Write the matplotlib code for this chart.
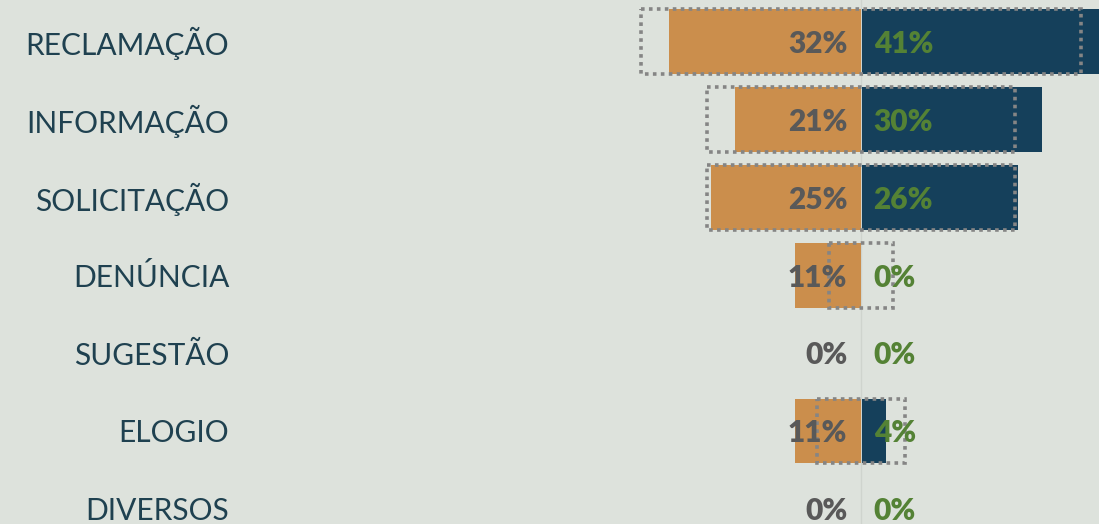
import matplotlib
matplotlib.use("Agg")
import matplotlib.pyplot as plt
from matplotlib.patches import Rectangle

categorias = ["RECLAMAÇÃO", "INFORMAÇÃO", "SOLICITAÇÃO", "DENÚNCIA",
              "SUGESTÃO", "ELOGIO", "DIVERSOS"]
periodo_a = [32, 21, 25, 11, 0, 11, 0]   # barras laranja (esquerda)
periodo_b = [41, 30, 26, 0, 0, 4, 0]     # barras azuis (direita)
media = [36.6, 25.6, 25.6, 5.4, 0, 7.3, 0]  # caixas pontilhadas

fundo = "#dde2dc"
laranja = "#cb8e4c"
azul = "#15405b"
verde = "#548235"
cinza = "#595959"
texto_cat = "#1f4150"

fig = plt.figure(figsize=(10.99, 5.24), dpi=100, facecolor=fundo)
ax = fig.add_axes([0, 0, 1, 1])
ax.set_facecolor(fundo)

y = list(range(len(categorias)))
h = 0.834

ax.axvline(0, color="#cfd4ce", lw=1, zorder=1)
ax.barh(y, [-v for v in periodo_a], height=h, color=laranja, zorder=2)
ax.barh(y, periodo_b, left=0.2, height=h, color=azul, zorder=2)

for i, m in enumerate(media):
    if m > 0:
        ax.add_patch(Rectangle((-m, i - h / 2), 2 * m, h, fill=False,
                               ls=(0, (1, 1.2)), lw=2.6, ec="#858585",
                               zorder=3))

for i, (a, b) in enumerate(zip(periodo_a, periodo_b)):
    ax.text(-2.3, i + 0.03, f"{a}%", ha="right", va="center", fontsize=21.5,
            fontweight="heavy", color=cinza, family="Lato", zorder=4)
    ax.text(2.1, i + 0.03, f"{b}%", ha="left", va="center", fontsize=21.5,
            fontweight="heavy", color=verde, family="Lato", zorder=4)
    ax.text(-105.3, i + 0.03, categorias[i], ha="right", va="center",
            fontsize=21.5, fontweight="normal", color=texto_cat,
            family="Lato", zorder=4)

ax.set_xlim(-143.5, 39.67)
ax.set_ylim(6.194, -0.533)
ax.axis("off")

fig.savefig("out.png", dpi=100, facecolor=fundo)
